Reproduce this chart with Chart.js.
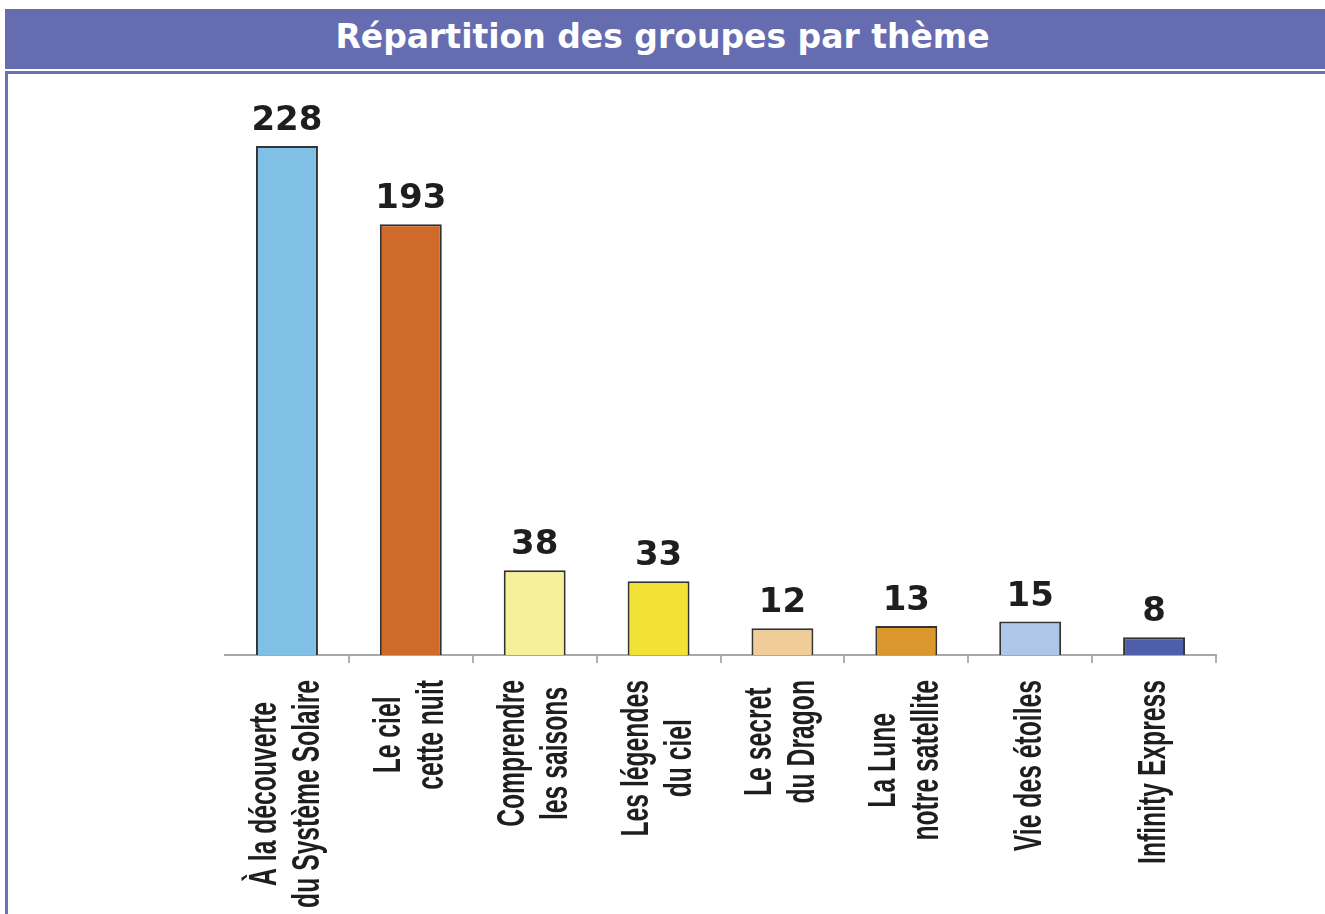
<!DOCTYPE html>
<html lang="fr">
<head>
<meta charset="utf-8">
<title>Répartition des groupes par thème</title>
<script src="https://cdn.jsdelivr.net/npm/chart.js@4.4.1/dist/chart.umd.min.js"></script>
<style>
  html, body { margin: 0; padding: 0; background: #fff; width: 1325px; height: 914px; overflow: hidden; }
  .title-bar { position: absolute; left: 5px; top: 9px; width: 1320px; height: 60px; background: #656db0; }
  .title-text { position: absolute; left: 0; top: 17px; width: 1325px; height: 38px; line-height: 38px;
    text-align: center; color: #fff; font: bold 33px "DejaVu Sans", sans-serif; }
  .rule { position: absolute; left: 5px; top: 71px; width: 1320px; height: 3px; background: #6a72b4; }
  .side { position: absolute; left: 5px; top: 71px; width: 3px; height: 843px; background: #6a72b4; }
  #chart { position: absolute; left: 0; top: 0; }
</style>
</head>
<body>
<div class="title-bar"></div>
<div class="title-text">Répartition des groupes par thème</div>
<div class="rule"></div>
<div class="side"></div>
<canvas id="chart" width="1325" height="914"></canvas>

<script>
/* ── data ─────────────────────────────────────────────────────────────── */
const themes = [
  ['À la découverte', 'du Système Solaire'],
  ['Le ciel', 'cette nuit'],
  ['Comprendre', 'les saisons'],
  ['Les légendes', 'du ciel'],
  ['Le secret', 'du Dragon'],
  ['La Lune', 'notre satellite'],
  ['Vie des étoiles'],
  ['Infinity Express'],
];
const groupCounts = [228, 193, 38, 33, 12, 13, 15, 8];
const barColors = [
  '#80bfe6',  // bleu ciel
  '#d06a2a',  // orange brûlé
  '#f7f09a',  // jaune pâle
  '#f2e236',  // jaune
  '#f0cc98',  // pêche
  '#dc962e',  // orange
  '#aec6e8',  // bleu clair
  '#4f5ea8',  // bleu nuit
];

/* value above each bar */
const valueLabels = {
  id: 'valueLabels',
  afterDatasetsDraw(chart) {
    const ctx = chart.ctx;
    const meta = chart.getDatasetMeta(0);
    ctx.save();
    ctx.font = 'bold 34px "DejaVu Sans", sans-serif';
    ctx.fillStyle = '#1e1e1e';
    ctx.textAlign = 'center';
    ctx.textBaseline = 'alphabetic';
    meta.data.forEach((bar, i) => {
      ctx.fillText(String(groupCounts[i]), bar.x, bar.y - 16);
    });
    ctx.restore();
  },
};

/* rotated, condensed category labels, lines centred on each other */
const rotatedLabels = {
  id: 'rotatedLabels',
  afterDraw(chart) {
    const ctx = chart.ctx;
    const xScale = chart.scales.x;
    const squeeze = 0.65;
    const lineGap = 43;
    const top = chart.chartArea.bottom + 25;
    ctx.save();
    ctx.font = 'bold 38px "Liberation Sans", Arial, sans-serif';
    ctx.fillStyle = '#1e1e1e';
    ctx.textAlign = 'center';
    ctx.textBaseline = 'middle';
    themes.forEach((lines, i) => {
      const x = xScale.getPixelForValue(i);
      const longest = Math.max(...lines.map(l => ctx.measureText(l).width)) * squeeze;
      ctx.save();
      ctx.translate(x, top + longest / 2);
      ctx.rotate(-Math.PI / 2);
      ctx.scale(squeeze, 1);
      lines.forEach((line, j) => {
        ctx.fillText(line, 0, (j - (lines.length - 1) / 2) * lineGap);
      });
      ctx.restore();
    });
    ctx.restore();
  },
};

new Chart(document.getElementById('chart'), {
  type: 'bar',
  data: {
    labels: themes.map(t => t.join(' ')),
    datasets: [{
      data: groupCounts,
      backgroundColor: barColors,
      borderColor: '#333333',
      borderWidth: 2,
      borderSkipped: 'start',
      categoryPercentage: 1,
      barPercentage: 0.5,
    }],
  },
  options: {
    responsive: false,
    devicePixelRatio: 1,
    animation: false,
    layout: { padding: { left: 225, right: 109, top: 97, bottom: 251 } },
    plugins: {
      legend: { display: false },
      tooltip: { enabled: false },
    },
    scales: {
      x: {
        grid: {
          display: true,
          drawOnChartArea: false,
          drawTicks: true,
          tickLength: 8,
          lineWidth: 2,
          color: (c) => (c.index === 0 ? 'rgba(0,0,0,0)' : '#b0b0b0'),
        },
        border: { display: true, color: '#a8a8a8', width: 2 },
        ticks: { display: false },
      },
      y: {
        display: false,
        min: 0,
        max: 250,
      },
    },
  },
  plugins: [valueLabels, rotatedLabels],
});
</script>
</body>
</html>
